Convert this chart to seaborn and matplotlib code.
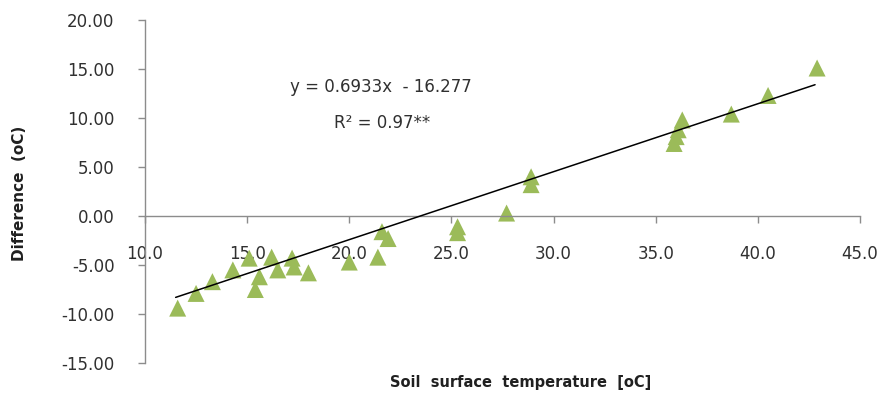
import matplotlib
matplotlib.use("Agg")
import matplotlib.pyplot as plt
import seaborn as sns
import numpy as np
import pandas as pd

# values
soil_temp = [11.6, 12.5, 13.3, 14.3, 15.4, 15.6, 15.1, 16.2, 16.5, 17.2, 17.3, 18.0,
             20.0, 21.4, 21.6, 21.9, 25.3, 25.3, 27.7, 28.9, 28.9,
             35.9, 36.0, 36.1, 36.3, 38.7, 40.5, 42.9]
difference = [-9.4, -7.9, -6.7, -5.5, -7.5, -6.2, -4.3, -4.2, -5.5, -4.3, -5.2, -5.8,
              -4.7, -4.2, -1.6, -2.3, -1.1, -1.7, 0.3, 4.0, 3.2,
              7.4, 8.1, 8.8, 9.8, 10.4, 12.3, 15.1]
slope = 0.6933
intercept = -16.277
eq_text = "y = 0.6933x  - 16.277"
r2_text = "R² = 0.97**"

df = pd.DataFrame({"temp": soil_temp, "diff": difference})

sns.set_style("white")
plt.rcParams["font.family"] = ["DejaVu Sans"]

fig = plt.figure(figsize=(8.8, 3.94), dpi=100)
ax = fig.add_axes([145 / 880, 1 - 363 / 394, 715 / 880, 343 / 394])

sns.scatterplot(data=df, x="temp", y="diff", marker="^", s=150, color="#9BBB59",
                edgecolor="none", ax=ax, zorder=1)

# trend line from the stated equation
fit_x = np.array([min(soil_temp) - 0.1, max(soil_temp) - 0.1])
fit = pd.DataFrame({"x": fit_x, "y": slope * fit_x + intercept})
sns.lineplot(data=fit, x="x", y="y", color="black", lw=1.1, ax=ax, zorder=3)

ax.set_xlim(10, 45)
ax.set_ylim(-15, 20)
ax.set_xticks(np.arange(10, 46, 5))
ax.set_xticklabels([f"{v:.1f}" for v in np.arange(10, 46, 5)])
ax.set_yticks(np.arange(-15, 21, 5))
ax.set_yticklabels([f"{v:.2f}" for v in np.arange(-15, 21, 5)])

for side in ["top", "right"]:
    ax.spines[side].set_visible(False)
ax.spines["bottom"].set_position(("data", 0))
for side in ["left", "bottom"]:
    ax.spines[side].set_color("#8c8c8c")
    ax.spines[side].set_linewidth(1.0)

ax.tick_params(axis="x", bottom=True, direction="out", length=5, width=1, color="#8c8c8c",
               pad=16, labelsize=12, labelcolor="#303030")
ax.tick_params(axis="y", left=True, direction="out", length=5, width=1, color="#8c8c8c",
               pad=17, labelsize=12, labelcolor="#303030")
ax.set_xlabel("")
ax.set_ylabel("")

fig.text(381 / 880, 1 - 87 / 394, eq_text, fontsize=12, color="#303030",
         ha="center", va="center")
fig.text(382 / 880, 1 - 123 / 394, r2_text, fontsize=12, color="#303030",
         ha="center", va="center")

fig.text(521 / 880, 1 - 383 / 394, "Soil  surface  temperature  [oC]", fontsize=10.5,
         fontweight="bold", ha="center", va="center", color="#202020")
fig.text(20 / 880, 1 - 193 / 394, "Difference  (oC)", fontsize=11, fontweight="bold",
         rotation=90, ha="center", va="center", color="#202020")

fig.savefig("out.png", dpi=100)
